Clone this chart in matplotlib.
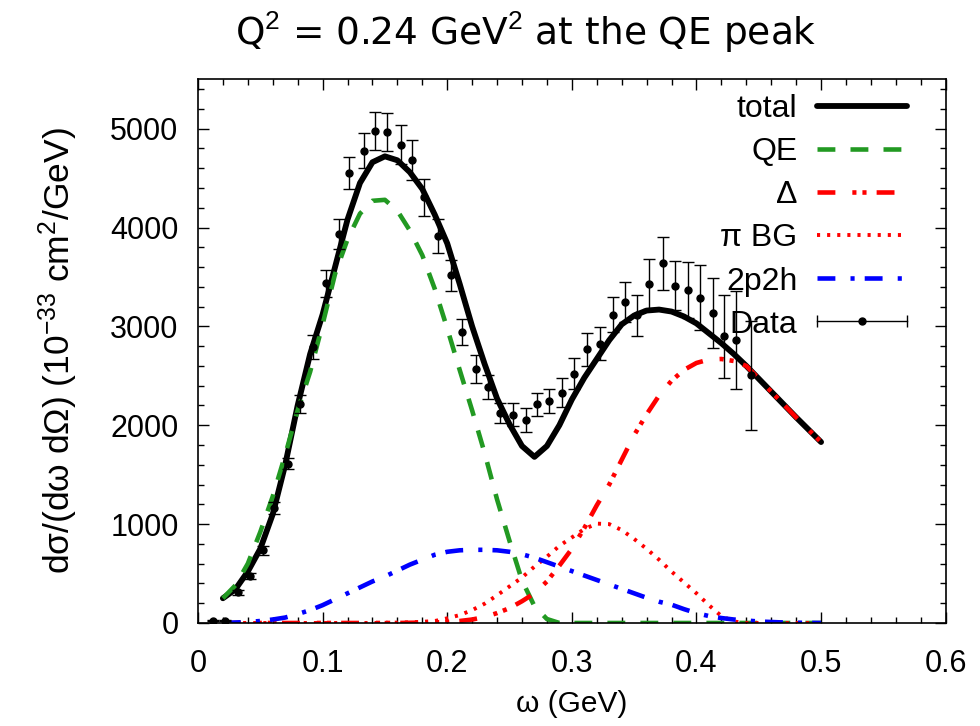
import numpy as np
import matplotlib
matplotlib.use("Agg")
import matplotlib.pyplot as plt
from matplotlib.lines import Line2D
from matplotlib.legend_handler import HandlerBase
from matplotlib.ticker import MultipleLocator

plt.rcParams['font.family'] = ['Liberation Sans', 'DejaVu Sans']
plt.rcParams['mathtext.fontset'] = 'custom'
plt.rcParams['mathtext.rm'] = 'Liberation Sans'
plt.rcParams['mathtext.it'] = 'Liberation Sans:italic'

# data points (omega in GeV, cross section, error)
data_x = [0.012, 0.022, 0.032, 0.042, 0.052, 0.061, 0.072, 0.082, 0.092, 0.103,
          0.113, 0.121, 0.133, 0.142, 0.152, 0.163, 0.172, 0.181, 0.193, 0.203,
          0.212, 0.223, 0.233, 0.242, 0.253, 0.263, 0.272, 0.282, 0.292, 0.302,
          0.312, 0.323, 0.333, 0.343, 0.352, 0.362, 0.373, 0.383, 0.393, 0.403,
          0.413, 0.422, 0.432, 0.444]
data_y = [25, 25, 310, 478, 737, 1165, 1613, 2212, 2791, 3437,
          3936, 4553, 4778, 4973, 4966, 4838, 4684, 4306, 3919, 3515,
          2940, 2570, 2387, 2124, 2108, 2051, 2212, 2246, 2330, 2522,
          2768, 2825, 3120, 3250, 3111, 3428, 3640, 3410, 3370, 3290,
          3140, 2899, 2862, 2505]
data_err = [10, 10, 25, 30, 45, 59, 55, 89, 118, 138,
            152, 165, 175, 193, 189, 197, 200, 185, 172, 155,
            130, 138, 125, 100, 120, 120, 118, 118, 143, 155,
            168, 165, 177, 202, 210, 249, 269, 247, 286, 328,
            354, 421, 497, 552]

# model curves
w = [0.02, 0.03, 0.04, 0.05, 0.06, 0.07, 0.08, 0.09, 0.10, 0.11,
     0.12, 0.13, 0.14, 0.15, 0.16, 0.17, 0.18, 0.19, 0.20, 0.21,
     0.22, 0.23, 0.24, 0.25, 0.26, 0.27, 0.28, 0.29, 0.30, 0.31,
     0.32, 0.33, 0.34, 0.35, 0.36, 0.37, 0.38, 0.39, 0.40, 0.41,
     0.42, 0.43, 0.44, 0.45, 0.46, 0.47, 0.48, 0.49, 0.50]
total = [250, 340, 520, 750, 1100, 1600, 2200, 2720, 3120, 3600,
         4080, 4450, 4660, 4720, 4680, 4560, 4390, 4130, 3840, 3430,
         3000, 2620, 2270, 2010, 1790, 1680, 1790, 2000, 2260, 2480,
         2670, 2860, 3020, 3110, 3160, 3170, 3150, 3100, 3030, 2930,
         2830, 2720, 2600, 2470, 2340, 2210, 2080, 1955, 1830]
qe = [250, 380, 600, 920, 1280, 1700, 2150, 2540, 3020, 3530,
      3880, 4140, 4270, 4280, 4170, 3970, 3720, 3380, 2980, 2560,
      2150, 1720, 1250, 830, 430, 170, 40, 0, 0, 0,
      0, 0, 0, 0, 0, 0, 0, 0, 0, 0,
      0, 0, 0, 0, 0, 0, 0, 0, 0]
delta = [0, 0, 0, 0, 0, 0, 0, 0, 0, 0,
         0, 0, 0, 0, 0, 2, 4, 6, 10, 20,
         35, 60, 100, 150, 220, 300, 420, 580, 750, 960,
         1190, 1400, 1650, 1900, 2110, 2300, 2450, 2560, 2630, 2665,
         2670, 2650, 2600, 2470, 2340, 2210, 2080, 1955, 1830]
pibg = [0, 0, 0, 0, 0, 0, 0, 0, 0, 0,
        0, 0, 0, 2, 4, 7, 12, 20, 47, 80,
        130, 195, 280, 370, 460, 570, 670, 780, 865, 950,
        1005, 1000, 940, 850, 750, 640, 520, 410, 300, 180,
        70, 15, 0, 0, 0, 0, 0, 0, 0]
twop2h = [0, 5, 10, 20, 35, 55, 90, 130, 180, 240,
          300, 360, 420, 470, 530, 590, 640, 690, 720, 735,
          740, 740, 735, 720, 695, 660, 615, 570, 525, 480,
          435, 390, 345, 300, 255, 215, 185, 140, 100, 70,
          50, 35, 25, 15, 10, 5, 3, 1, 0]


class HandlerData(HandlerBase):
    def create_artists(self, legend, orig_handle, xdescent, ydescent,
                       width, height, fontsize, trans):
        y = height / 2 - ydescent
        x0, x1 = -xdescent, width - xdescent
        line = Line2D([x0, x1], [y, y], color='k', lw=1.0, transform=trans)
        caps = Line2D([x0, x1], [y, y], ls='none', marker='|', ms=9,
                      mew=1.0, color='k', transform=trans)
        dot = Line2D([(x0 + x1) / 2], [y], marker='o', ms=5, color='k',
                     ls='none', transform=trans)
        return [line, caps, dot]


fig = plt.figure(figsize=(9.8, 7.26), dpi=100)
ax = fig.add_axes([0.202, 0.1419, 0.763, 0.749])

h_tot, = ax.plot(w, total, color='black', lw=4.2, solid_capstyle='round')
h_qe, = ax.plot(w, qe, color='#229922', lw=3.3, dashes=(3.9, 3.3))
h_d, = ax.plot(w, delta, color='#ff0000', lw=3.3, dashes=(3.9, 3.7, 0.9, 1.3, 0.9, 2.2))
h_pi, = ax.plot(w, pibg, color='#ff0000', lw=2.8, dashes=(0.8, 1.8))
h_2p, = ax.plot(w, twop2h, color='#0000ff', lw=3.3, dashes=(3.9, 3.3, 0.9, 2.2))
ax.errorbar(data_x, data_y, yerr=data_err, fmt='o', color='black', ms=5,
            elinewidth=1.0, capsize=4, capthick=1.0)

ax.set_xlim(0, 0.6)
ax.set_ylim(0, 5500)
ax.xaxis.set_minor_locator(MultipleLocator(0.02))
ax.yaxis.set_minor_locator(MultipleLocator(200))
ax.set_xticks([0, 0.1, 0.2, 0.3, 0.4, 0.5, 0.6])
ax.set_xticklabels(['0', '0.1', '0.2', '0.3', '0.4', '0.5', '0.6'])
ax.set_yticks([0, 1000, 2000, 3000, 4000, 5000])
ax.tick_params(which='both', direction='in', top=True, right=True, labelsize=22, width=1.0)
ax.tick_params(which='major', length=8)
ax.tick_params(axis='x', which='major', pad=19)
ax.tick_params(axis='y', which='major', pad=14)
ax.tick_params(which='minor', length=4)
for s in ax.spines.values():
    s.set_linewidth(1.2)

ax.set_xlabel('ω (GeV)', fontsize=21.5, labelpad=8)
ax.set_ylabel('dσ/(dω dΩ) (10$^{-33}$ cm$^2$/GeV)', fontsize=25.5, labelpad=22)
fig.text(0.536, 0.955, 'Q$^2$ = 0.24 GeV$^2$ at the QE peak', fontsize=27,
         ha='center', va='center', family='DejaVu Sans')

leg = ax.legend([h_tot, h_qe, h_d, h_pi, h_2p, 'data'],
                ['total', 'QE', 'Δ', 'π BG', '2p2h', 'Data'],
                handler_map={str: HandlerData()},
                loc='upper right', bbox_to_anchor=(0.966, 0.996), borderaxespad=0,
                frameon=False, markerfirst=False, fontsize=23,
                handlelength=2.82, handletextpad=0.63, labelspacing=0.41)

fig.savefig('out.png', dpi=100)
